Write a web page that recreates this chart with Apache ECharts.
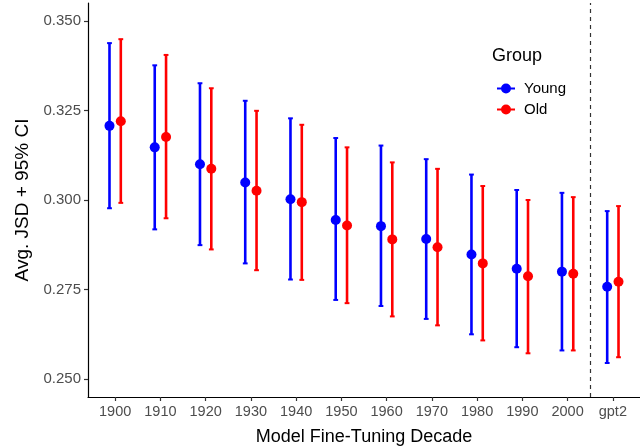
<!DOCTYPE html>
<html>
<head>
<meta charset="utf-8">
<script src="https://cdn.jsdelivr.net/npm/echarts@6/dist/echarts.min.js"></script>
<style>html,body{margin:0;padding:0;background:#fff}#c{width:640px;height:448px}</style>
</head>
<body>
<div id="c"></div>
<script>
const categories = ['1900','1910','1920','1930','1940','1950','1960','1970','1980','1990','2000','gpt2'];
const youngMean = [0.3207,0.3147,0.3100,0.3049,0.3002,0.2944,0.2927,0.2891,0.2848,0.2808,0.2800,0.2758];
const youngLow  = [0.2977,0.2918,0.2874,0.2823,0.2778,0.2721,0.2704,0.2668,0.2625,0.2589,0.2580,0.2545];
const youngHigh = [0.3438,0.3376,0.3326,0.3277,0.3228,0.3173,0.3152,0.3114,0.3071,0.3028,0.3020,0.2969];
const oldMean   = [0.3220,0.3176,0.3087,0.3026,0.2994,0.2929,0.2890,0.2868,0.2823,0.2787,0.2794,0.2772];
const oldLow    = [0.2992,0.2949,0.2862,0.2804,0.2777,0.2712,0.2675,0.2650,0.2608,0.2572,0.2580,0.2561];
const oldHigh   = [0.3449,0.3405,0.3312,0.3249,0.3210,0.3147,0.3105,0.3087,0.3039,0.3000,0.3008,0.2983];
const yTicks = [0.250,0.275,0.300,0.325,0.350];

const dodge = 0.125;
const FONT = 'Liberation Sans';
const BLUE = '#0000FF', RED = '#FF0000';

function errData(low, high, off){ return low.map((l,i)=>[i+off, l, high[i]]); }
function ptData(mean, off){ return mean.map((m,i)=>[i+off, m]); }
function makeRender(color){
  return function(params, api){
    const x = api.value(0);
    const lo = api.coord([x, api.value(1)]);
    const hi = api.coord([x, api.value(2)]);
    const cw = 2.4;
    const st = {stroke: color, lineWidth: 2.6};
    const cs = {stroke: color, lineWidth: 2};
    return {type:'group', children:[
      {type:'line', shape:{x1:lo[0],y1:lo[1],x2:hi[0],y2:hi[1]}, style:st},
      {type:'line', shape:{x1:lo[0]-cw,y1:lo[1],x2:lo[0]+cw,y2:lo[1]}, style:cs},
      {type:'line', shape:{x1:hi[0]-cw,y1:hi[1],x2:hi[0]+cw,y2:hi[1]}, style:cs}
    ]};
  };
}
const legendIcon = 'path://M0,4.1 L18,4.1 L18,5.9 L0,5.9 Z M14,5 A5,5 0 1 1 4,5 A5,5 0 1 1 14,5 Z';

const chart = echarts.init(document.getElementById('c'), null, {renderer:'canvas'});
chart.setOption({
  animation: false,
  textStyle: {fontFamily: FONT},
  title: {text:'Group', left: 487, top: 42, textStyle:{fontFamily:FONT, fontSize:18, fontWeight:'normal', color:'#000'}},
  legend: {
    orient:'vertical', left: 492, top: 76, itemGap: 6, itemWidth: 18, itemHeight: 10,
    textStyle:{fontFamily:FONT, fontSize:15, color:'#000', padding:[0,0,0,4]},
    data:[{name:'Young', icon:legendIcon},{name:'Old', icon:legendIcon}]
  },
  grid: {left: 88, right: 0, top: 3, bottom: 51, outerBoundsMode: 'none', containLabel: false},
  xAxis: {
    type:'value', min:-0.6, max:11.6,
    name:'Model Fine-Tuning Decade', nameLocation:'middle', nameGap: 31,
    nameTextStyle:{fontFamily:FONT, fontSize:18, color:'#000'},
    axisLine:{show:true, onZero:false, lineStyle:{color:'#000', width:1.2}},
    axisTick:{show:true, length:4, customValues: categories.map((c,i)=>i), lineStyle:{color:'#333', width:1.2}},
    axisLabel:{customValues: categories.map((c,i)=>i), formatter:(v)=>categories[Math.round(v)], fontFamily:FONT, fontSize:14.5, color:'#4d4d4d', margin:7},
    splitLine:{show:false}
  },
  yAxis: {
    type:'value', min:0.245, max:0.355,
    name:'Avg. JSD + 95% CI', nameLocation:'middle', nameGap: 55, nameRotate: 90,
    nameTextStyle:{fontFamily:FONT, fontSize:19, color:'#000'},
    axisLine:{show:true, onZero:false, lineStyle:{color:'#000', width:1.2}},
    axisTick:{show:true, length:4, customValues: yTicks, lineStyle:{color:'#333', width:1.2}},
    axisLabel:{customValues: yTicks, formatter:(v)=>v.toFixed(3), fontFamily:FONT, fontSize:15, color:'#4d4d4d', margin:7},
    splitLine:{show:false}
  },
  series: [
    {type:'custom', name:'YoungErr', renderItem: makeRender(BLUE), data: errData(youngLow, youngHigh, -dodge), encode:{x:0, y:[1,2]}, z:2},
    {type:'custom', name:'OldErr', renderItem: makeRender(RED), data: errData(oldLow, oldHigh, dodge), encode:{x:0, y:[1,2]}, z:2},
    {type:'scatter', name:'Young', data: ptData(youngMean, -dodge), symbolSize: 10, itemStyle:{color:BLUE, opacity:1}, z:3,
      markLine:{silent:true, symbol:'none', label:{show:false}, lineStyle:{type:[4,4], color:'#333', width:1.2}, data:[{xAxis:10.5}]}},
    {type:'scatter', name:'Old', data: ptData(oldMean, dodge), symbolSize: 10, itemStyle:{color:RED, opacity:1}, z:3}
  ]
});
</script>
</body>
</html>
